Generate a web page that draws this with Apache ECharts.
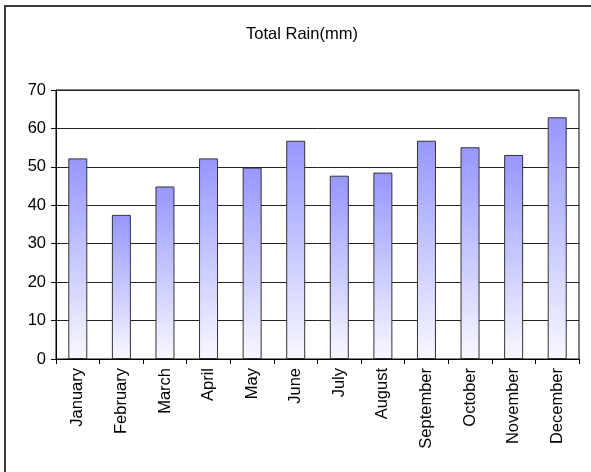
<!DOCTYPE html>
<html>
<head>
<meta charset="utf-8">
<script src="https://cdn.jsdelivr.net/npm/echarts@6/dist/echarts.min.js"></script>
<style>
  html, body { margin: 0; padding: 0; background: #fff; }
  #chart { width: 591px; height: 472px; }
</style>
</head>
<body>
<div id="chart"></div>
<script>
// Monthly rainfall totals
const months = ['January', 'February', 'March', 'April', 'May', 'June',
  'July', 'August', 'September', 'October', 'November', 'December'];
const rainMm = [52.2, 37.5, 44.9, 52.2, 49.8, 56.8, 47.7, 48.5, 56.8, 55.1, 53.1, 62.9];
const yTicks = [0, 10, 20, 30, 40, 50, 60, 70];

const FONT = '"Liberation Sans", Arial, sans-serif';

const chart = echarts.init(document.getElementById('chart'), null, { renderer: 'canvas' });

chart.setOption({
  animation: false,
  backgroundColor: '#ffffff',
  title: {
    text: 'Total Rain(mm)',
    left: 297,
    top: 21,
    textAlign: 'center',
    textStyle: { fontFamily: FONT, fontSize: 16.5, fontWeight: 'normal', color: '#000' }
  },
  graphic: [{
    type: 'rect',
    shape: { x: 5, y: 6, width: 700, height: 600 },
    style: { fill: 'none', stroke: '#3a3a3a', lineWidth: 2 },
    silent: true
  }],
  grid: {
    left: 56, right: 12, top: 90, bottom: 113,
    show: true, borderColor: '#000', borderWidth: 1, backgroundColor: 'transparent'
  },
  xAxis: {
    type: 'category',
    data: months,
    axisLine: { lineStyle: { color: '#000', width: 1 } },
    axisTick: { show: true, length: 5, alignWithLabel: false, lineStyle: { color: '#000' } },
    axisLabel: {
      rotate: 90, interval: 0, margin: 9,
      fontFamily: FONT, fontSize: 16.5, color: '#000'
    }
  },
  yAxis: {
    type: 'value',
    min: yTicks[0],
    max: yTicks[yTicks.length - 1],
    interval: yTicks[1] - yTicks[0],
    axisLine: { show: true, lineStyle: { color: '#000', width: 1 } },
    axisTick: { show: true, length: 5, lineStyle: { color: '#000' } },
    axisLabel: { margin: 10, fontFamily: FONT, fontSize: 16.5, color: '#000' },
    splitLine: { show: true, lineStyle: { color: '#222', width: 1 } }
  },
  series: [{
    type: 'bar',
    data: rainMm,
    barWidth: 19,
    itemStyle: {
      color: new echarts.graphic.LinearGradient(0, 0, 0, 1, [
        { offset: 0, color: '#9696ff' },
        { offset: 1, color: '#f8f8ff' }
      ]),
      borderColor: '#333',
      borderWidth: 1
    }
  }]
});
</script>
</body>
</html>
